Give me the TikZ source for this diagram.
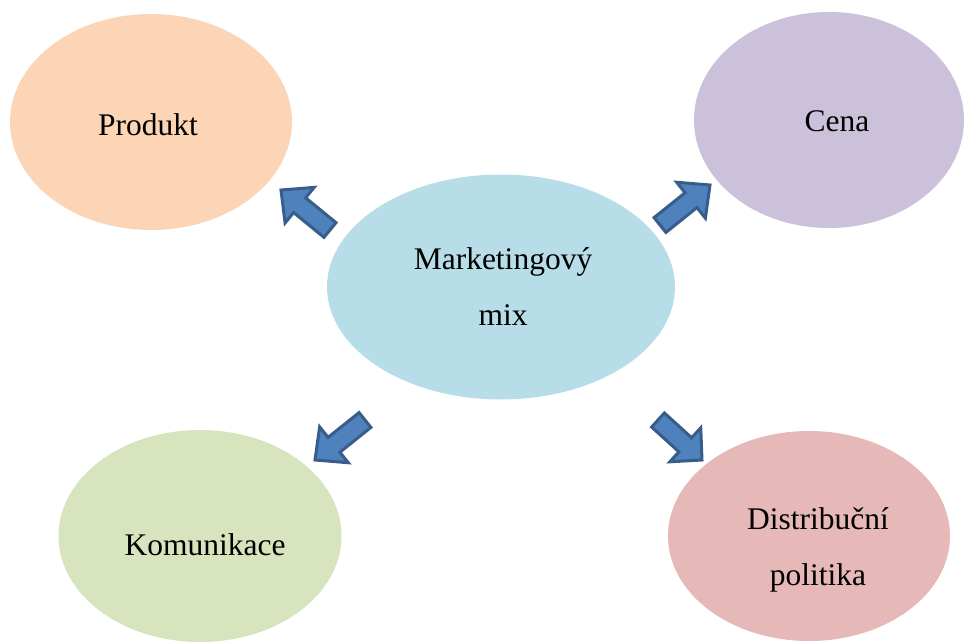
\documentclass[tikz,border=0pt]{standalone}
\usepackage{fontspec}
\setmainfont{Liberation Serif}
\usetikzlibrary{calc,shapes.geometric}
\definecolor{cPeach}{HTML}{FBD5B5}
\definecolor{cLav}{HTML}{CCC1DA}
\definecolor{cBlue}{HTML}{B7DEE8}
\definecolor{cGreen}{HTML}{D7E4BD}
\definecolor{cPink}{HTML}{E6B9B8}
\definecolor{arrFill}{HTML}{4F81BD}
\definecolor{arrLine}{HTML}{385D8A}
\tikzset{
  bubble/.style={ellipse, draw=none, inner sep=0pt},
  lbl/.style={font=\fontsize{31.5}{56}\selectfont, align=center, inner sep=0pt},
  blockarrow/.style={fill=arrFill, draw=arrLine, line width=3pt, line join=miter},
}
\newcommand{\myblockarrow}[2]{%
  \draw[blockarrow]
    ($(#1)!9.5pt!90:(#2)$) --
    ($($(#1)!0.62!(#2)$)!9.5pt!90:(#2)$) --
    ($($(#1)!0.62!(#2)$)!23pt!90:(#2)$) --
    (#2) --
    ($($(#1)!0.62!(#2)$)!23pt!-90:(#2)$) --
    ($($(#1)!0.62!(#2)$)!9.5pt!-90:(#2)$) --
    ($(#1)!9.5pt!-90:(#2)$) -- cycle;
}
\begin{document}
\begin{tikzpicture}[x=1pt,y=-1pt]
\useasboundingbox (0,0) rectangle (964,642);
\begin{scope}
\clip (0,0) rectangle (964,642);
\node[bubble, fill=cPeach, minimum width=282pt, minimum height=216pt] (produkt) at (151,122) {};
\node[bubble, fill=cLav, minimum width=270pt, minimum height=216pt] (cena) at (829,120) {};
\node[bubble, fill=cBlue, minimum width=348pt, minimum height=225pt] (mix) at (501,287) {};
\node[bubble, fill=cGreen, minimum width=283pt, minimum height=212pt] (komunikace) at (200,536) {};
\node[bubble, fill=cPink, minimum width=282pt, minimum height=210pt] (distribuce) at (809,536) {};
\end{scope}
\node[lbl] (tProdukt) at (148,125) {Produkt};
\node[lbl] (tCena) at (837,121) {Cena};
\node[lbl] (tMix) at (503,287) {Marketingový\\mix};
\node[lbl] (tKom) at (205,545) {Komunikace};
\node[lbl] (tDist) at (818,550) {Distribuční\\politika};
\coordinate (a1t) at (330,230); \coordinate (a1h) at (281,190);
\coordinate (a2t) at (660,225); \coordinate (a2h) at (710,185);
\coordinate (a3t) at (365,420); \coordinate (a3h) at (315,460);
\coordinate (a4t) at (658,420); \coordinate (a4h) at (702,460);
\myblockarrow{a1t}{a1h}
\myblockarrow{a2t}{a2h}
\myblockarrow{a3t}{a3h}
\myblockarrow{a4t}{a4h}
\end{tikzpicture}
\end{document}
